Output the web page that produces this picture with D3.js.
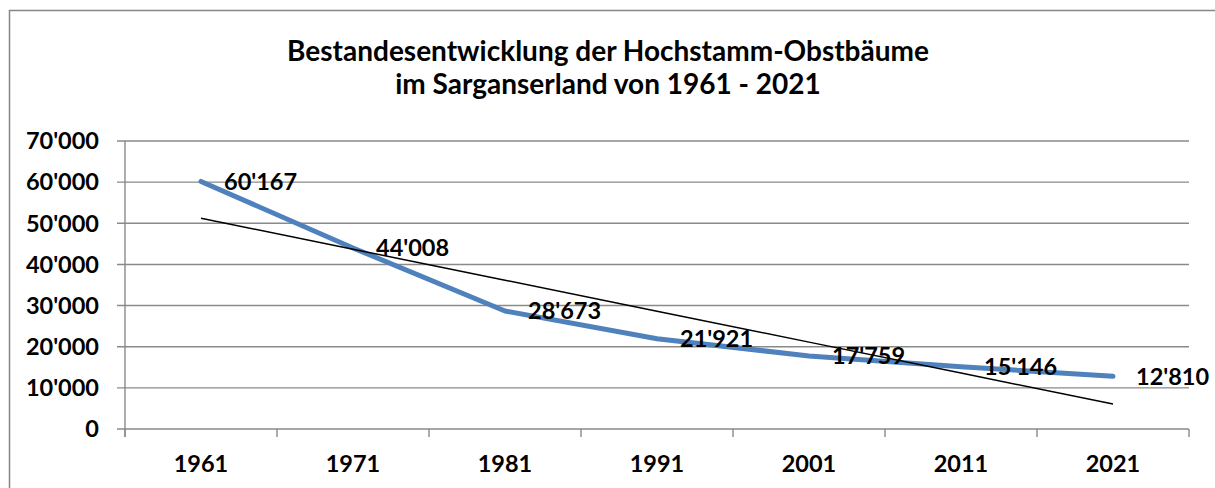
<!DOCTYPE html>
<html>
<head>
<meta charset="utf-8">
<script src="https://cdn.jsdelivr.net/npm/d3@7"></script>
<style>
  body { margin: 0; background: #fff; }
  svg { display: block; font-family: Lato, 'Open Sans', sans-serif; font-weight: bold; }
</style>
</head>
<body>
<div id="chart"></div>
<script>
const years = ['1961', '1971', '1981', '1991', '2001', '2011', '2021'];
const trees = [60167, 44008, 28673, 21921, 17759, 15146, 12810];
const yTicks = [0, 10000, 20000, 30000, 40000, 50000, 60000, 70000];
const titleLines = ['Bestandesentwicklung der Hochstamm-Obstbäume', 'im Sarganserland von 1961 - 2021'];

const width = 1215;
const height = 488;
const margin = { top: 141, right: 26, bottom: 59, left: 125 };

const svg = d3.select('#chart').append('svg')
  .attr('width', width)
  .attr('height', height);

// outer chart frame (runs off the right and bottom edge)
svg.append('rect')
  .attr('x', 9.5).attr('y', 10.5)
  .attr('width', width + 20).attr('height', height + 20)
  .attr('fill', 'none')
  .attr('stroke', '#868686')
  .attr('stroke-width', 1.5);

svg.append('text')
  .attr('text-anchor', 'middle')
  .attr('font-size', 28)
  .attr('fill', '#000')
  .selectAll('tspan')
  .data(titleLines)
  .join('tspan')
  .attr('x', 608)
  .attr('y', (d, i) => 61 + i * 33)
  .text(d => d);

const x = d3.scaleBand()
  .domain(years)
  .range([margin.left, width - margin.right]);

const y = d3.scaleLinear()
  .domain([0, 70000])
  .range([height - margin.bottom, margin.top]);

const fmt = v => d3.format(',')(v).replace(/,/g, "'");

// gridlines
svg.append('g')
  .selectAll('line')
  .data(yTicks)
  .join('line')
  .attr('x1', margin.left - 8)
  .attr('x2', width - margin.right)
  .attr('y1', d => y(d))
  .attr('y2', d => y(d))
  .attr('stroke', '#8a8a8a')
  .attr('stroke-width', 1.4);

// y axis line
svg.append('line')
  .attr('x1', margin.left).attr('x2', margin.left)
  .attr('y1', y(70000)).attr('y2', y(0) + 8)
  .attr('stroke', '#8a8a8a')
  .attr('stroke-width', 1.4);

// x tick marks on category boundaries
const bounds = years.map(d => x(d)).concat([x.range()[1]]);
svg.append('g')
  .selectAll('line')
  .data(bounds)
  .join('line')
  .attr('x1', d => d).attr('x2', d => d)
  .attr('y1', y(0)).attr('y2', y(0) + 8)
  .attr('stroke', '#8a8a8a')
  .attr('stroke-width', 1.4);

// y labels
svg.append('g')
  .selectAll('text')
  .data(yTicks)
  .join('text')
  .attr('x', 99)
  .attr('y', d => y(d))
  .attr('dy', '0.35em')
  .attr('text-anchor', 'end')
  .attr('font-size', 23.5)
  .text(fmt);

// x labels
svg.append('g')
  .selectAll('text')
  .data(years)
  .join('text')
  .attr('x', d => x(d) + x.bandwidth() / 2)
  .attr('y', 472)
  .attr('text-anchor', 'middle')
  .attr('font-size', 23.5)
  .text(d => d);

const cx = (d, i) => x(years[i]) + x.bandwidth() / 2;

// series line
svg.append('path')
  .datum(trees)
  .attr('fill', 'none')
  .attr('stroke', '#4f81bd')
  .attr('stroke-width', 5)
  .attr('stroke-linejoin', 'round')
  .attr('stroke-linecap', 'round')
  .attr('d', d3.line().x(cx).y(d => y(d)));

// linear trend line
const mx = d3.mean(trees, (d, i) => i);
const my = d3.mean(trees);
const slope = d3.sum(trees, (d, i) => (i - mx) * (d - my)) / d3.sum(trees, (d, i) => (i - mx) * (i - mx));
const trend = trees.map((d, i) => my + slope * (i - mx));
svg.append('path')
  .datum(trend)
  .attr('fill', 'none')
  .attr('stroke', '#000')
  .attr('stroke-width', 1.5)
  .attr('d', d3.line().x(cx).y(d => y(d)));

// data labels
svg.append('g')
  .selectAll('text')
  .data(trees)
  .join('text')
  .attr('x', (d, i) => cx(d, i) + 23)
  .attr('y', d => y(d))
  .attr('dy', '0.35em')
  .attr('font-size', 23.5)
  .text(fmt);
</script>
</body>
</html>
